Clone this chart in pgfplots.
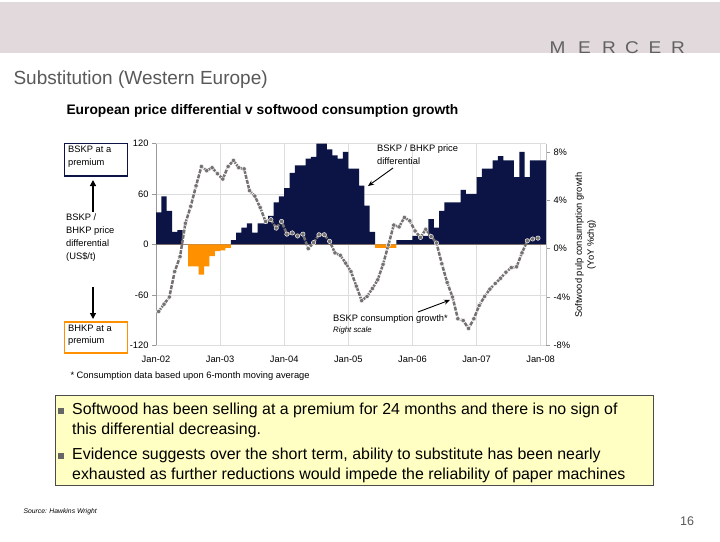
\documentclass[border=0pt]{standalone}
\usepackage{pgfplots}
\pgfplotsset{compat=1.18}
\usepackage{fontspec}
\setmainfont{Liberation Sans}
\usetikzlibrary{arrows.meta}
\definecolor{navy}{HTML}{0C1446}
\definecolor{orng}{HTML}{FF9000}
\definecolor{lgray}{HTML}{767171}
\definecolor{band}{HTML}{E1D9DB}
\definecolor{titlegray}{HTML}{595959}
\definecolor{boxyellow}{HTML}{FFFFC4}
\definecolor{gridc}{HTML}{DDDDDD}
\definecolor{axgray}{HTML}{999999}

% BSKP/BHKP price differential (US$/t), monthly from Jan-02 (value holds for the month)
\pgfplotstableread{
x pos neg
0 38 0
1 57 0
2 40 0
3 15 0
4 17 0
5 0 0
6 0 -26
7 0 -26
8 0 -36
9 0 -26
10 0 -14
11 0 -8
12 0 -7
13 0 -4
14 5 0
15 14 0
16 20 0
17 25 0
18 14 0
19 25 0
20 25 0
21 34 0
22 50 0
23 57 0
24 67 0
25 85 0
26 94 0
27 94 0
28 102 0
29 104 0
30 120 0
31 120 0
32 113 0
33 106 0
34 102 0
35 110 0
36 90 0
37 90 0
38 70 0
39 46 0
40 15 0
41 0 -4
42 0 -4
43 0 -4
44 0 -4
45 5 0
46 5 0
47 5 0
48 10 0
49 10 0
50 10 0
51 30 0
52 20 0
53 40 0
54 50 0
55 50 0
56 50 0
57 65 0
58 60 0
59 60 0
60 80 0
61 90 0
62 90 0
63 100 0
64 105 0
65 100 0
66 100 0
67 80 0
68 110 0
69 80 0
70 100 0
71 100 0
72 100 0
73 0 0
}\diffdata

% BSKP consumption growth (YoY %), plotted at mid-month
\pgfplotstableread{
x y
0.5 -5.2
1.5 -4.6
2.5 -4.0
3.5 -1.9
4.5 -0.66
5.5 2.1
6.5 3.5
7.5 5.2
8.5 6.8
9.5 6.45
10.5 6.7
11.5 6.2
12.5 5.76
13.5 6.8
14.5 7.3
15.5 6.7
16.5 6.6
17.5 4.8
18.5 4.35
19.5 3.4
20.5 2.25
21.5 2.4
22.5 1.7
23.5 2.25
24.5 1.2
25.5 1.3
26.5 1.05
27.5 1.2
28.5 0.0
29.5 0.5
30.5 1.15
31.5 1.15
32.5 0.6
33.5 -0.35
34.5 -0.55
35.5 -1.2
36.5 -1.9
37.5 -3.1
38.5 -4.3
39.5 -3.96
40.5 -3.3
41.5 -2.58
42.5 -1.3
43.5 0.3
44.5 1.95
45.5 1.8
46.5 2.58
47.5 2.3
48.5 1.46
49.5 0.93
50.5 1.6
51.5 1.0
52.5 0.47
53.5 -1.25
54.5 -2.8
55.5 -4.0
56.5 -5.8
57.5 -5.95
58.5 -6.6
59.5 -5.8
60.5 -4.7
61.5 -3.96
62.5 -3.35
63.5 -2.88
64.5 -2.45
65.5 -1.95
66.5 -1.57
67.5 -1.5
68.5 -0.35
69.5 0.65
70.5 0.8
71.5 0.87
}\growthdata

\begin{document}
\begin{tikzpicture}
\begin{scope}[x=1pt,y=-1pt]
\useasboundingbox (0,0) rectangle (720,541);
\fill[white] (0,0) rectangle (720,541);
\fill[band] (0,2) rectangle (720,53);
\foreach \l/\x in {M/557.5,E/584.5,R/609,C/632,E/655,R/678}
  \node[text=black!62, font=\fontsize{17}{17}\selectfont, xscale=1.12] at (\x,47.5) {\l};
\node[anchor=west, text=titlegray, font=\fontsize{19}{22}\selectfont] at (10,80) {Substitution (Western Europe)};
\node[anchor=west, font=\bfseries\fontsize{13.8}{16}\selectfont] at (63,111) {European price differential v softwood consumption growth};
% left explanatory labels (frames drawn as filled rings)
\fill[navy] (63.6,142.6) rectangle (128.4,176.9);
\fill[white] (65.4,144.4) rectangle (126.6,175.1);
\node[anchor=north west, align=left, inner sep=0pt, font=\fontsize{9.33}{12.8}\selectfont] at (68,145.5) {BSKP at a\\premium};
\draw[-{Triangle[length=6pt,width=6pt]}, line width=1.2pt] (93,212) -- (93,180);
\node[anchor=north west, align=left, inner sep=0pt, font=\fontsize{9.33}{12.8}\selectfont] at (66,214) {BSKP /\\BHKP price\\differential\\(US\$/t)};
\draw[-{Triangle[length=6pt,width=6pt]}, line width=1.2pt] (93,287) -- (93,319);
\fill[orng] (63.6,321.1) rectangle (128.4,353.9);
\fill[white] (65.4,322.9) rectangle (126.6,352.1);
\node[anchor=north west, align=left, inner sep=0pt, font=\fontsize{9.33}{12.8}\selectfont] at (68,324.5) {BHKP at a\\premium};
% right axis title
\node[rotate=90, align=center, font=\fontsize{9.33}{12}\selectfont] at (585.5,245) {Softwood pulp consumption growth\\(YoY \%chg)};
% footnote
\node[anchor=west, font=\fontsize{9.33}{11}\selectfont] at (67,376) {* Consumption data based upon 6-month moving average};
% yellow box
\draw[fill=boxyellow, draw=black!70, line width=0.8pt] (55,395) rectangle (653,485);
\fill[black!60] (57.5,407.5) rectangle (63.5,413.5);
\fill[black!60] (57.5,452.5) rectangle (63.5,458.5);
\node[anchor=north west, align=left, inner sep=0pt, font=\fontsize{15.9}{19.3}\selectfont] at (72,403) {Softwood has been selling at a premium for 24 months and there is no sign of\\this differential decreasing.};
\node[anchor=north west, align=left, inner sep=0pt, font=\fontsize{15.9}{19.3}\selectfont] at (72,448) {Evidence suggests over the short term, ability to substitute has been nearly\\exhausted as further reductions would impede the reliability of paper machines};
\node[anchor=west, font=\itshape\fontsize{6.8}{8}\selectfont] at (20,512) {Source: Hawkins Wright};
\node[text=titlegray, font=\fontsize{12.5}{14}\selectfont] at (687,521) {16};
\end{scope}

\begin{axis}[
  at={(156pt,-345.3pt)}, anchor=south west,
  scale only axis, width=390pt, height=201.8pt,
  xmin=0, xmax=73, ymin=-120, ymax=120,
  axis y line*=left, axis x line*=bottom,
  x axis line style={draw=gridc, -},
  y axis line style={draw=axgray, -},
  xtick={0,12,24,36,48,60,72},
  xticklabels={Jan-02,Jan-03,Jan-04,Jan-05,Jan-06,Jan-07,Jan-08},
  ytick={-120,-60,0,60,120},
  yticklabels={-120,-60,0,60,120},
  xmajorgrids, ymajorgrids,
  major grid style={draw=gridc, line width=0.5pt},
  xtick style={draw=none},
  ytick style={draw=axgray, line width=0.5pt},
  tick align=outside, major tick length=4pt,
  ticklabel style={font=\fontsize{9.33}{10}\selectfont},
  xticklabel style={yshift=-3.5pt},
  extra y ticks={0}, extra y tick labels={},
  extra y tick style={grid=major, major grid style={draw=axgray, line width=0.6pt}, tick style={draw=none}},
]
\addplot[const plot, fill=navy, draw=none] table[x=x, y=pos] {\diffdata} \closedcycle;
\addplot[const plot, fill=orng, draw=none] table[x=x, y=neg] {\diffdata} \closedcycle;
\end{axis}

\begin{axis}[
  at={(156pt,-345.3pt)}, anchor=south west,
  scale only axis, width=390pt, height=201.8pt,
  xmin=0, xmax=73, ymin=-8, ymax=8.7,
  axis y line*=right, axis x line=none,
  y axis line style={draw=black!25, -},
  ytick={-8,-4,0,4,8},
  yticklabels={-8\%,-4\%,0\%,4\%,8\%},
  ytick style={draw=axgray, line width=0.5pt},
  tick align=outside, major tick length=4pt,
  ticklabel style={font=\fontsize{9.33}{10}\selectfont},
]
\addplot[lgray, line width=2.5pt, dash pattern=on 4pt off 1.2pt, mark=*, mark size=2.2pt,
  mark options={solid, fill=lgray, draw=white, line width=0.45pt}] table[x=x, y=y] {\growthdata};
\end{axis}

\begin{scope}[x=1pt,y=-1pt]
\node[anchor=north west, align=left, inner sep=0pt, font=\fontsize{9.33}{12.5}\selectfont] at (377,145) {BSKP / BHKP price\\differential};
\draw[-{Stealth[length=6pt,width=5pt]}, line width=0.9pt] (393,168) -- (368,186);
\node[anchor=north west, inner sep=0pt, font=\fontsize{9.33}{10}\selectfont] at (333,314.5) {BSKP consumption growth*};
\node[anchor=north west, inner sep=0pt, font=\itshape\fontsize{7.8}{9}\selectfont] at (333,326.5) {Right scale};
\draw[-{Stealth[length=6pt,width=5pt]}, line width=0.9pt] (418,312) -- (450,300);
\end{scope}
\end{tikzpicture}
\end{document}
